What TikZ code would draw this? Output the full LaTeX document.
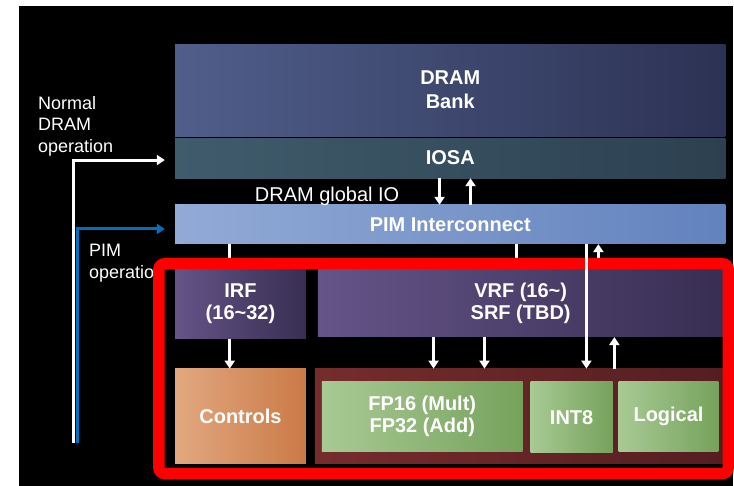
\documentclass[tikz,border=0pt]{standalone}
\usepackage{fontspec}
\setmainfont{Liberation Sans}
\usepackage{xcolor}
\usetikzlibrary{arrows.meta,positioning,calc}

\definecolor{bankL}{RGB}{80,94,138}
\definecolor{bankR}{RGB}{44,50,84}
\definecolor{iosaL}{RGB}{64,92,108}
\definecolor{iosaR}{RGB}{44,64,80}
\definecolor{pimL}{RGB}{146,170,214}
\definecolor{pimR}{RGB}{98,130,190}
\definecolor{rfL}{RGB}{100,84,136}
\definecolor{rfR}{RGB}{56,46,82}
\definecolor{ctrlL}{RGB}{226,168,128}
\definecolor{ctrlR}{RGB}{202,122,70}
\definecolor{aluL}{RGB}{118,44,44}
\definecolor{aluR}{RGB}{84,30,32}
\definecolor{unitL}{RGB}{168,202,148}
\definecolor{unitR}{RGB}{118,162,92}
\definecolor{pimblue}{RGB}{0,112,192}
\definecolor{hlred}{RGB}{255,0,0}

\begin{document}
\begin{tikzpicture}[
    x=1pt, y=-1pt,
    block/.style={rectangle, inner sep=0pt, anchor=north west, text=white, align=center,
        font=\bfseries\fontsize{20}{22}\selectfont},
    side/.style={anchor=north west, inner sep=0pt, text=white, align=left,
        font=\fontsize{18}{21.7}\selectfont},
    flow/.style={draw=white, line width=3pt, -{Triangle[width=10pt,length=8pt]}}
]
    % page and dark panel
    \fill[white] (0,0) rectangle (734,486);
    \fill[black] (19,6) rectangle (734,486);

    % DRAM side
    \node[block, minimum width=551pt, minimum height=92pt, left color=bankL, right color=bankR,
        font=\bfseries\fontsize{20}{24}\selectfont] (bank) at (175,44) {DRAM\\Bank};
    \node[block, minimum width=551pt, minimum height=40pt, left color=iosaL, right color=iosaR] (iosa) at (175,138) {IOSA};
    \node[block, minimum width=551pt, minimum height=39pt, left color=pimL, right color=pimR] (pim) at (175,205) {PIM Interconnect};
    \node[anchor=north west, inner sep=0pt, text=white, font=\fontsize{20}{24}\selectfont] (gio) at (255,187) {DRAM global IO};

    % PIM unit
    \node[block, minimum width=131pt, minimum height=70pt, left color=rfL, right color=rfR] (irf) at (175,269) {IRF\\(16\textasciitilde32)};
    \node[block, minimum width=406pt, minimum height=68pt, left color=rfL, right color=rfR] (vrf) at (318,269) {VRF (16\textasciitilde)\\SRF (TBD)};
    \node[block, minimum width=131pt, minimum height=95pt, left color=ctrlL, right color=ctrlR] (ctrl) at (175,369) {Controls};
    \node[block, minimum width=409pt, minimum height=95pt, left color=aluL, right color=aluR] (alu) at (315,369) {};
    \node[block, minimum width=201pt, minimum height=70pt, left color=unitL, right color=unitR] (fp) at (322,382) {FP16 (Mult)\\FP32 (Add)};
    \node[block, minimum width=82pt, minimum height=71pt, left color=unitL, right color=unitR] (int) at (531,382) {INT8};
    \node[block, minimum width=100pt, minimum height=70pt, left color=unitL, right color=unitR] (logic) at (619,382) {Logical};

    % operation modes
    \node[side] (normtxt) at (38,96) {Normal\\DRAM\\operation};
    \node[side] (pimtxt) at (89,244) {PIM\\operation};
    \coordinate (normsrc) at (73.5,443);
    \coordinate (pimsrc) at (77.5,443);
    \draw[flow, shorten >=10pt] (normsrc) |- ([yshift=-2pt]iosa.west);
    \draw[flow, draw=pimblue, shorten >=10pt] (pimsrc) |- ([yshift=-4.5pt]pim.west);

    % data lanes
    \coordinate (ioDn) at (440,0);
    \coordinate (ioUp) at (471,0);
    \coordinate (irfIn) at (230,0);
    \coordinate (vrfIn) at (517,0);
    \coordinate (intIn) at (587,0);
    \coordinate (vrfOut) at (599,0);
    \coordinate (fpA) at (434,0);
    \coordinate (fpB) at (485,0);
    \coordinate (wb) at (615,0);

    \draw[flow] (iosa.south -| ioDn) -- (pim.north -| ioDn);
    \draw[flow] (pim.north -| ioUp) -- (iosa.south -| ioUp);
    \draw[flow] (pim.south -| irfIn) -- (irf.north -| irfIn);
    \draw[flow] (irf.south -| irfIn) -- (ctrl.north -| irfIn);
    \draw[flow] (pim.south -| vrfIn) -- (vrf.north -| vrfIn);
    \draw[flow] (vrf.north -| vrfOut) -- (pim.south -| vrfOut);
    \draw[flow] (vrf.south -| fpA) -- (alu.north -| fpA);
    \draw[flow] (vrf.south -| fpB) -- (alu.north -| fpB);
    \draw[flow] (alu.north -| wb) -- (vrf.south -| wb);

    % PIM block outline
    \draw[hlred, line width=11.5pt, rounded corners=6pt] (159,264) rectangle (729,474);

    \draw[flow] (pim.south -| intIn) -- (alu.north -| intIn);
\end{tikzpicture}
\end{document}
